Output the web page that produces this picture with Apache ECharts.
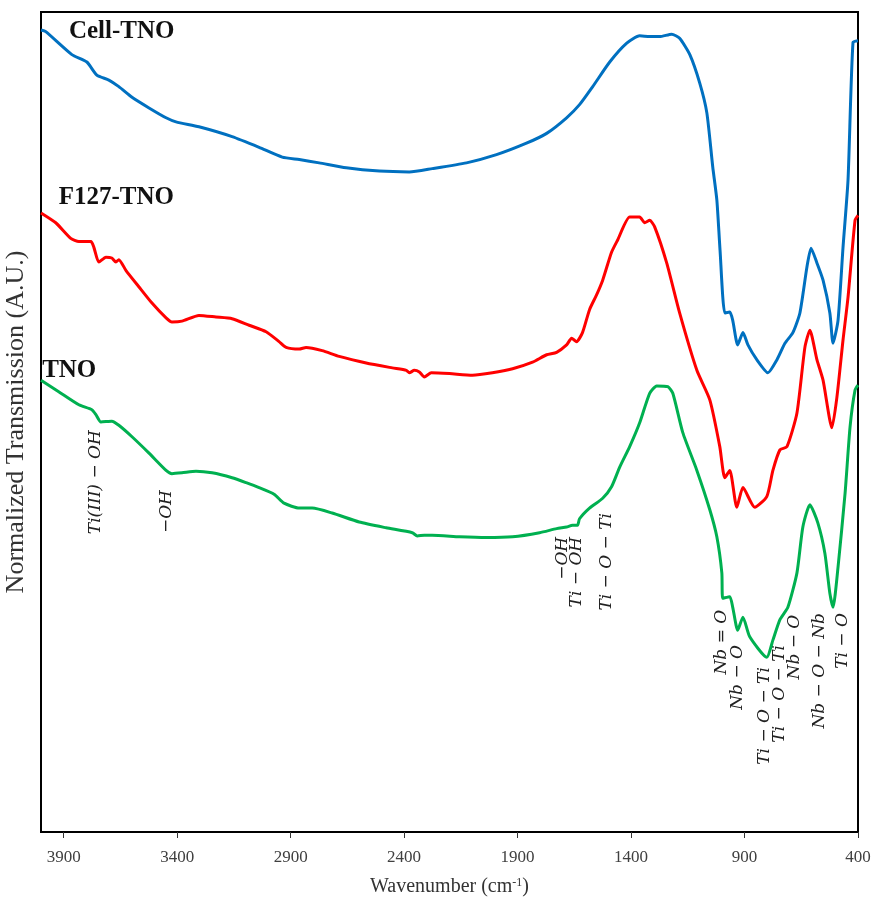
<!DOCTYPE html>
<html>
<head>
<meta charset="utf-8">
<script src="https://cdn.jsdelivr.net/npm/echarts@6/dist/echarts.min.js"></script>
<style>
  html, body { margin: 0; padding: 0; background: #fff; }
  #chart { width: 873px; height: 898px; }
</style>
</head>
<body>
<div id="chart"></div>
<script>
// FTIR spectra, wavenumber (cm-1) vs normalized transmission (arbitrary units, offset per sample)
const cellTno = [
  [4000, 97.8], [3979, 97.6], [3864, 94.8], [3798, 93.9], [3754, 92.3], [3701, 91.7],
  [3657, 90.9], [3599, 89.6], [3524, 88.3], [3449, 87.1], [3405, 86.6], [3304, 86.0],
  [3158, 84.8], [3039, 83.5], [2937, 82.3], [2862, 82.0], [2774, 81.6], [2655, 81.0],
  [2509, 80.6], [2377, 80.5], [2276, 80.9], [2125, 81.6], [1993, 82.6], [1861, 84.0],
  [1772, 85.2], [1684, 87.1], [1627, 88.7], [1569, 90.9], [1494, 93.9], [1419, 96.2],
  [1362, 97.1], [1318, 97.0], [1274, 97.0], [1221, 97.3], [1186, 96.8], [1141, 94.8],
  [1097, 91.3], [1066, 87.7], [1040, 81.1], [1022, 77.1], [1008, 71.0], [987, 63.3],
  [965, 63.4], [952, 62.4], [930, 59.4], [907, 60.9], [885, 59.4], [846, 57.6],
  [797, 56.0], [757, 57.6], [722, 59.6], [687, 60.9], [656, 63.3], [625, 68.9],
  [607, 71.2], [581, 69.4], [554, 67.3], [524, 63.3], [510, 59.6], [488, 62.4],
  [466, 71.3], [444, 79.5], [422, 96.3], [400, 96.5]
];

const f127Tno = [
  [4000, 75.5], [3935, 74.3], [3869, 72.4], [3833, 72.0], [3780, 72.0], [3767, 71.3],
  [3745, 69.5], [3714, 70.1], [3688, 70.0], [3670, 69.5], [3657, 69.8], [3626, 68.5],
  [3569, 66.5], [3511, 64.5], [3449, 62.7], [3423, 62.2], [3379, 62.3], [3304, 63.0],
  [3229, 62.8], [3158, 62.6], [3083, 61.8], [3008, 61.0], [2951, 59.8], [2920, 59.1],
  [2862, 58.9], [2832, 59.1], [2761, 58.7], [2686, 58.0], [2567, 57.2], [2452, 56.6],
  [2390, 56.3], [2377, 56.0], [2355, 56.3], [2333, 56.1], [2311, 55.5], [2280, 56.0],
  [2200, 55.9], [2099, 55.7], [2011, 56.0], [1922, 56.5], [1834, 57.3], [1772, 58.2],
  [1728, 58.5], [1684, 59.4], [1662, 60.2], [1640, 59.8], [1614, 60.9], [1583, 63.7],
  [1552, 65.5], [1525, 67.3], [1486, 70.7], [1459, 72.2], [1406, 75.0], [1362, 75.0],
  [1340, 74.3], [1318, 74.6], [1296, 73.8], [1243, 69.4], [1186, 63.3], [1110, 56.3],
  [1053, 52.7], [1009, 47.0], [987, 43.2], [965, 44.1], [934, 39.6], [907, 42.0],
  [855, 39.6], [802, 40.9], [775, 44.1], [744, 46.6], [713, 47.0], [669, 51.1],
  [634, 59.1], [612, 61.2], [581, 57.6], [554, 55.1], [515, 49.3], [493, 53.0],
  [466, 60.0], [444, 65.2], [413, 74.6], [400, 75.2]
];

const tno = [
  [4000, 55.1], [3922, 53.7], [3833, 52.1], [3776, 51.5], [3758, 50.9], [3736, 50.0],
  [3688, 50.1], [3657, 49.6], [3599, 48.2], [3524, 46.2], [3449, 44.1], [3423, 43.7],
  [3379, 43.8], [3317, 44.0], [3246, 43.8], [3158, 43.2], [3096, 42.6], [3039, 42.0],
  [2973, 41.2], [2929, 40.1], [2862, 39.5], [2805, 39.5], [2717, 38.9], [2598, 37.8],
  [2479, 37.1], [2364, 36.5], [2342, 36.1], [2311, 36.2], [2276, 36.2], [2156, 36.0],
  [2037, 35.9], [1922, 36.0], [1803, 36.5], [1728, 37.0], [1684, 37.2], [1658, 37.4],
  [1636, 37.4], [1627, 38.2], [1583, 39.5], [1525, 40.7], [1486, 42.1], [1450, 44.5],
  [1406, 47.0], [1362, 49.9], [1318, 53.5], [1287, 54.4], [1238, 54.3], [1216, 53.5],
  [1172, 48.7], [1110, 44.1], [1053, 39.3], [1022, 36.0], [1000, 31.6], [996, 28.5],
  [965, 28.7], [952, 27.4], [930, 24.6], [907, 26.2], [877, 23.8], [802, 21.3],
  [775, 23.4], [744, 25.9], [709, 27.4], [669, 31.6], [643, 37.2], [612, 39.9],
  [577, 37.7], [546, 34.0], [524, 29.1], [510, 27.4], [488, 32.3], [457, 41.3],
  [435, 49.4], [413, 53.9], [400, 54.5]
];

// sample names, anchored at [wavenumber, level]
const sampleNames = [
  [3877, 97.6, 'Cell-TNO'],
  [3922, 77.4, 'F127-TNO'],
  [3995, 56.3, 'TNO']
];

// band assignments, anchored at [wavenumber, level of the text's upper end]
const bandLabels = [
  [3758, 49.0, 'Ti(III) − OH'],
  [3445, 41.7, '−OH'],
  [1702, 36.0, '−OH'],
  [1640, 36.0, 'Ti − OH'],
  [1508, 38.9, 'Ti − O − Ti'],
  [1000, 27.1, 'Nb = O'],
  [930, 22.8, 'Nb − O'],
  [810, 20.1, 'Ti − O − Ti'],
  [744, 22.8, 'Ti − O − Ti'],
  [678, 26.5, 'Nb − O'],
  [568, 26.7, 'Nb − O − Nb'],
  [466, 26.7, 'Ti − O']
];

const tickValues = [3900, 3400, 2900, 2400, 1900, 1400, 900, 400];

const serif = 'Liberation Serif, Times New Roman, serif';
const mathSerif = 'DejaVu Serif, serif';

const chart = echarts.init(document.getElementById('chart'), null, { renderer: 'canvas' });

chart.setOption({
  animation: false,
  backgroundColor: '#ffffff',
  grid: {
    left: 41, right: 15, top: 12, bottom: 66,
    containLabel: false, outerBoundsMode: 'none',
    show: true, borderColor: '#000', borderWidth: 2, backgroundColor: 'transparent'
  },
  xAxis: {
    type: 'value',
    min: 400, max: 4000,
    inverse: true,
    name: 'Wavenumber (cm{sup|-1})',
    nameLocation: 'middle',
    nameGap: 45,
    nameTextStyle: {
      fontFamily: serif, fontSize: 20, color: '#333',
      rich: { sup: { fontFamily: serif, fontSize: 12, color: '#333', verticalAlign: 'top', padding: [0, 0, 8, 0] } }
    },
    axisLine: { show: true, lineStyle: { color: '#000', width: 2 } },
    axisTick: { show: true, inside: false, length: 6, lineStyle: { color: '#333', width: 1 }, customValues: tickValues },
    axisLabel: {
      show: true, fontFamily: serif, fontSize: 17, color: '#404040', margin: 17,
      customValues: tickValues, formatter: v => String(v)
    },
    splitLine: { show: false }
  },
  yAxis: {
    type: 'value',
    min: 0, max: 100,
    name: 'Normalized Transmission (A.U.)',
    nameLocation: 'middle',
    nameGap: 12,
    nameTextStyle: { fontFamily: serif, fontSize: 26, color: '#333' },
    axisLine: { show: true, lineStyle: { color: '#000', width: 2 } },
    axisTick: { show: false },
    axisLabel: { show: false },
    splitLine: { show: false }
  },
  series: [
    {
      name: 'Cell-TNO', type: 'line', data: cellTno, showSymbol: false, smooth: 0.2,
      lineStyle: { color: '#0070C0', width: 3 }, itemStyle: { color: '#0070C0' }
    },
    {
      name: 'F127-TNO', type: 'line', data: f127Tno, showSymbol: false, smooth: 0.2,
      lineStyle: { color: '#FF0000', width: 3 }, itemStyle: { color: '#FF0000' }
    },
    {
      name: 'TNO', type: 'line', data: tno, showSymbol: false, smooth: 0.2,
      lineStyle: { color: '#00B050', width: 3 }, itemStyle: { color: '#00B050' }
    },
    {
      type: 'scatter', data: sampleNames, symbolSize: 0, silent: true,
      itemStyle: { opacity: 1 },
      label: {
        show: true, position: 'inside', align: 'left', verticalAlign: 'middle',
        formatter: p => p.data[2],
        fontFamily: serif, fontWeight: 'bold', fontSize: 25, color: '#111', opacity: 1
      }
    },
    {
      type: 'scatter', data: bandLabels, symbolSize: 0, silent: true,
      itemStyle: { opacity: 1 },
      label: {
        show: true, position: 'inside', rotate: 90, align: 'right', verticalAlign: 'middle',
        formatter: p => p.data[2],
        fontFamily: mathSerif, fontStyle: 'italic', fontSize: 17, color: '#222', opacity: 1
      }
    }
  ]
});
</script>
</body>
</html>
